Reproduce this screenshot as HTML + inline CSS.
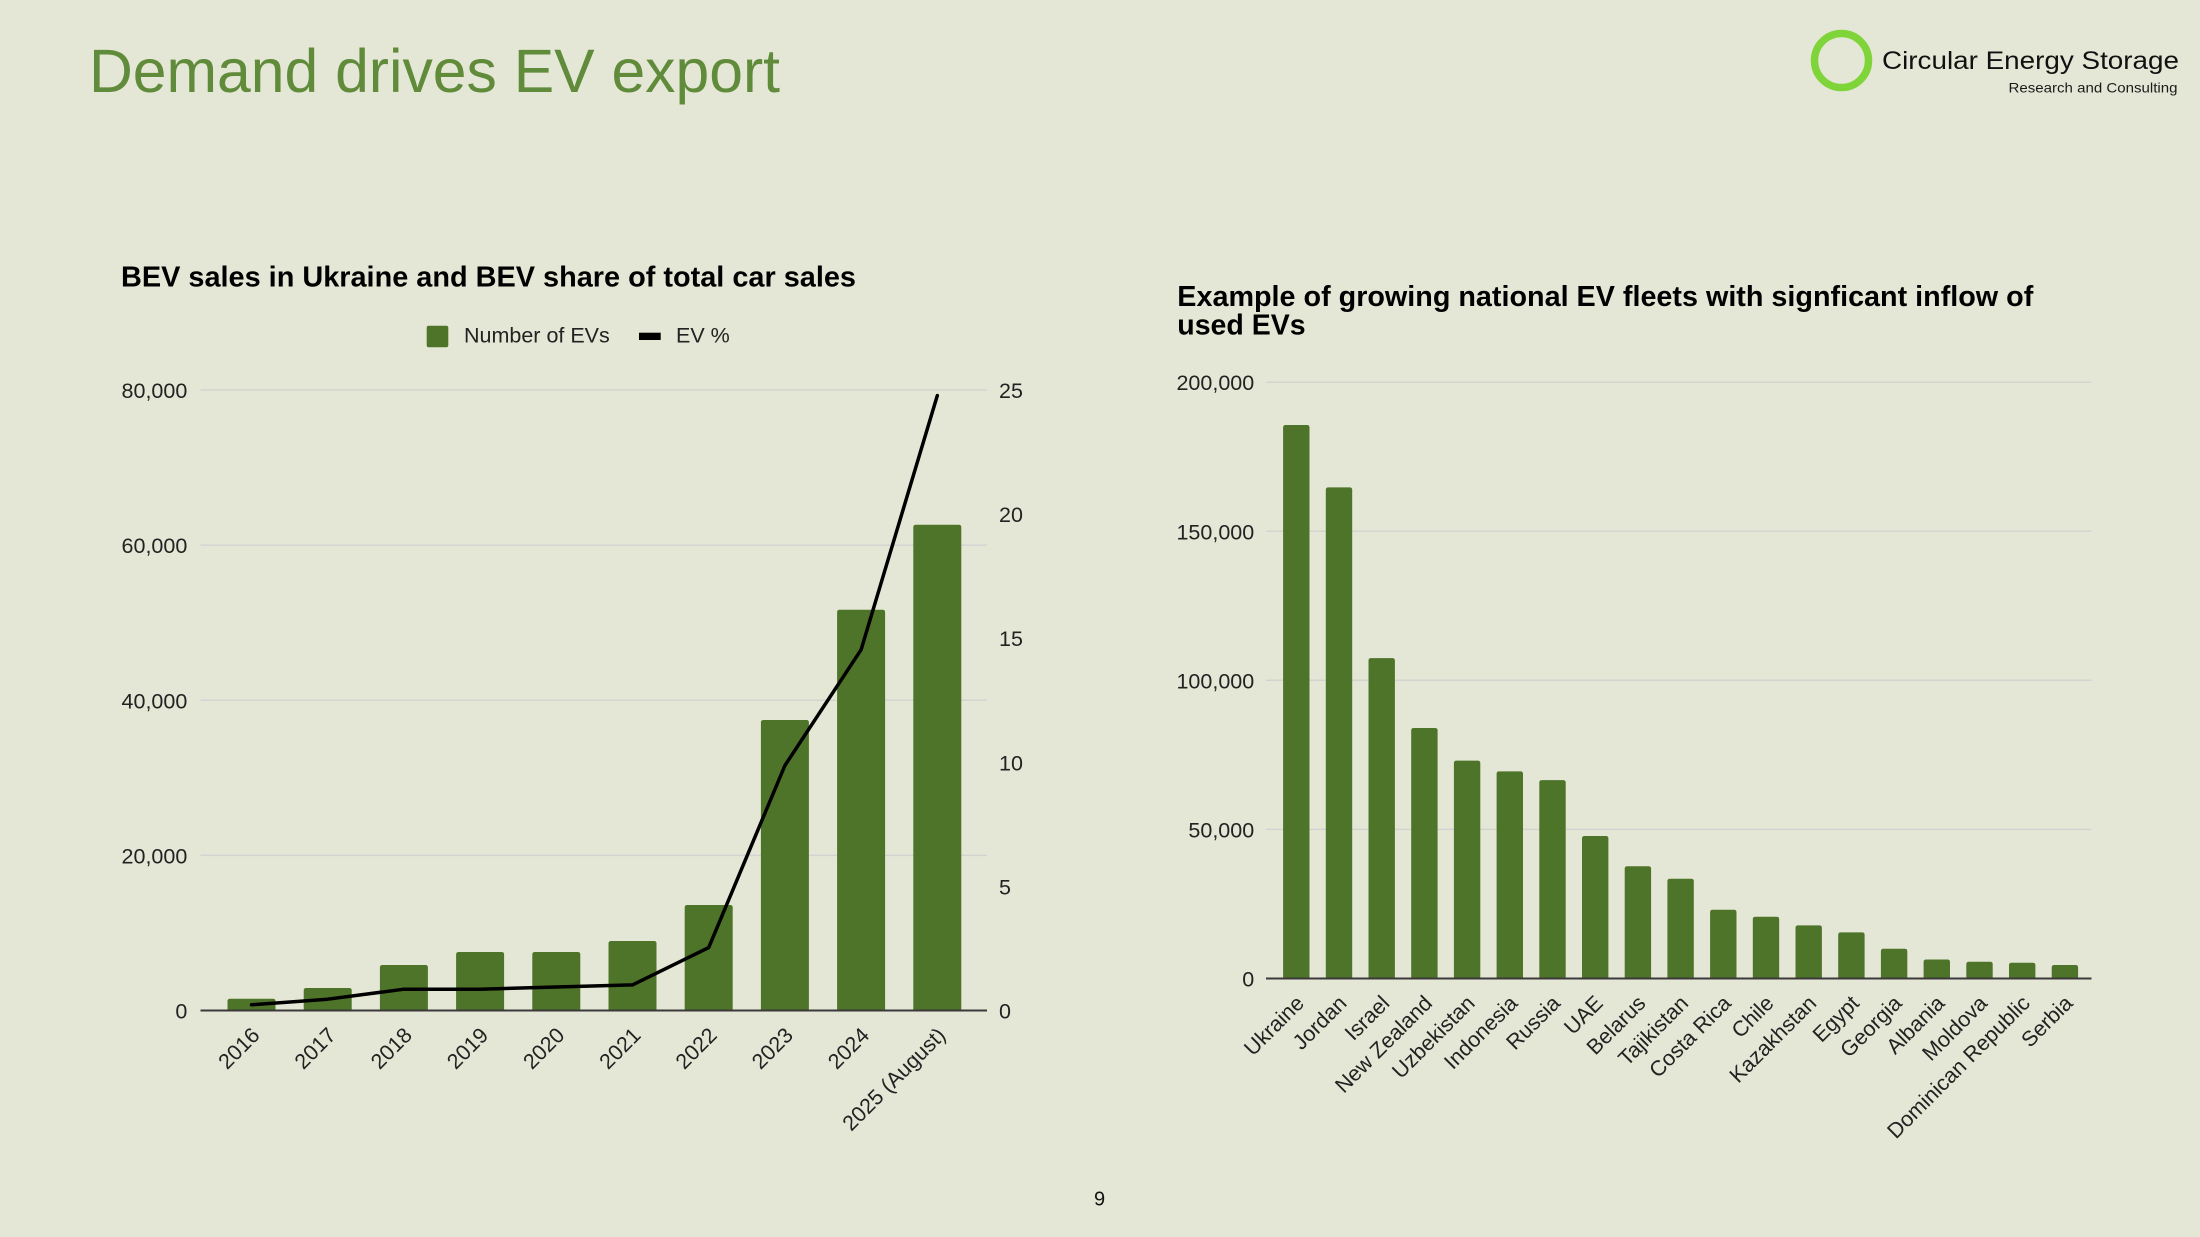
<!DOCTYPE html>
<html>
<head>
<meta charset="utf-8">
<style>
  html, body { margin: 0; padding: 0; background: #e5e7d6; }
  body { width: 2200px; height: 1237px; overflow: hidden; }
  svg { display: block; }
  text { font-family: "Liberation Sans", Arial, sans-serif; }
</style>
</head>
<body>
<svg width="2200" height="1237" viewBox="0 0 2200 1237" xmlns="http://www.w3.org/2000/svg">
  <rect x="0" y="0" width="2200" height="1237" fill="#e5e7d6"/>

  <!-- Main title -->
  <text x="89" y="92" font-size="61.5" fill="#608b3a" textLength="691" lengthAdjust="spacingAndGlyphs">Demand drives EV export</text>

  <!-- Logo -->
  <circle cx="1841.5" cy="60.5" r="27" fill="none" stroke="#7fd43a" stroke-width="7.5"/>
  <text x="1882" y="69" font-size="25" fill="#111" textLength="297" lengthAdjust="spacingAndGlyphs">Circular Energy Storage</text>
  <text x="2008.5" y="92.7" font-size="14" fill="#1a1a1a" textLength="169" lengthAdjust="spacingAndGlyphs">Research and Consulting</text>

  <!-- ================= LEFT CHART ================= -->
  <text x="121" y="286.7" font-size="28.5" font-weight="bold" fill="#000" textLength="735" lengthAdjust="spacingAndGlyphs">BEV sales in Ukraine and BEV share of total car sales</text>

  <!-- legend -->
  <rect x="426.7" y="325.7" width="21.6" height="21.6" rx="2" fill="#4e7429"/>
  <text x="464" y="342.7" font-size="21.5" fill="#222">Number of EVs</text>
  <rect x="639" y="332.7" width="21.7" height="7.3" fill="#000"/>
  <text x="676" y="342.7" font-size="21.5" fill="#222">EV %</text>

  <!-- gridlines -->
  <g stroke="#d3d4d2" stroke-width="1.5">
    <line x1="200.5" y1="390" x2="987" y2="390"/>
    <line x1="200.5" y1="545.1" x2="987" y2="545.1"/>
    <line x1="200.5" y1="700.3" x2="987" y2="700.3"/>
    <line x1="200.5" y1="855.4" x2="987" y2="855.4"/>
  </g>

  <!-- left axis labels -->
  <g font-size="21.5" fill="#222" text-anchor="end">
    <text x="187.3" y="398">80,000</text>
    <text x="187.3" y="553.1">60,000</text>
    <text x="187.3" y="708.3">40,000</text>
    <text x="187.3" y="863.4">20,000</text>
    <text x="187.3" y="1018.5">0</text>
  </g>
  <!-- right axis labels -->
  <g font-size="21.5" fill="#222" text-anchor="start">
    <text x="999" y="398">25</text>
    <text x="999" y="522.1">20</text>
    <text x="999" y="646.2">15</text>
    <text x="999" y="770.3">10</text>
    <text x="999" y="894.4">5</text>
    <text x="999" y="1018.5">0</text>
  </g>

  <!-- bars -->
  <g fill="#4e7429">
    <path d="M227.5,1010.5 V1001.3 q0,-2.5 2.5,-2.5 H273 q2.5,0 2.5,2.5 V1010.5 Z"/>
    <path d="M303.7,1010.5 V990.5 q0,-2.5 2.5,-2.5 H349.2 q2.5,0 2.5,2.5 V1010.5 Z"/>
    <path d="M379.9,1010.5 V967.5 q0,-2.5 2.5,-2.5 H425.4 q2.5,0 2.5,2.5 V1010.5 Z"/>
    <path d="M456.1,1010.5 V954.5 q0,-2.5 2.5,-2.5 H501.6 q2.5,0 2.5,2.5 V1010.5 Z"/>
    <path d="M532.3,1010.5 V954.5 q0,-2.5 2.5,-2.5 H577.8 q2.5,0 2.5,2.5 V1010.5 Z"/>
    <path d="M608.5,1010.5 V943.5 q0,-2.5 2.5,-2.5 H654 q2.5,0 2.5,2.5 V1010.5 Z"/>
    <path d="M684.7,1010.5 V907.5 q0,-2.5 2.5,-2.5 H730.2 q2.5,0 2.5,2.5 V1010.5 Z"/>
    <path d="M760.9,1010.5 V722.5 q0,-2.5 2.5,-2.5 H806.4 q2.5,0 2.5,2.5 V1010.5 Z"/>
    <path d="M837.1,1010.5 V612.3 q0,-2.5 2.5,-2.5 H882.6 q2.5,0 2.5,2.5 V1010.5 Z"/>
    <path d="M913.3,1010.5 V527.3 q0,-2.5 2.5,-2.5 H958.8 q2.5,0 2.5,2.5 V1010.5 Z"/>
  </g>

  <!-- axis baseline -->
  <line x1="200.5" y1="1010.5" x2="987" y2="1010.5" stroke="#3a3a3a" stroke-width="2"/>

  <!-- EV % line -->
  <polyline fill="none" stroke="#000" stroke-width="3.5" stroke-linejoin="round" stroke-linecap="round"
    points="251.5,1004.8 327.7,999.2 403.9,989.2 480.1,989.2 556.3,987 632.5,984.9 708.7,947.6 784.9,765.5 861.1,649.7 937.3,395.6"/>

  <!-- x labels -->
  <g font-size="21.5" fill="#222" text-anchor="end">
    <text transform="translate(261,1036.5) rotate(-45)">2016</text>
    <text transform="translate(337.2,1036.5) rotate(-45)">2017</text>
    <text transform="translate(413.4,1036.5) rotate(-45)">2018</text>
    <text transform="translate(489.6,1036.5) rotate(-45)">2019</text>
    <text transform="translate(565.8,1036.5) rotate(-45)">2020</text>
    <text transform="translate(642,1036.5) rotate(-45)">2021</text>
    <text transform="translate(718.2,1036.5) rotate(-45)">2022</text>
    <text transform="translate(794.4,1036.5) rotate(-45)">2023</text>
    <text transform="translate(870.6,1036.5) rotate(-45)">2024</text>
    <text transform="translate(946.8,1036.5) rotate(-45)">2025 (August)</text>
  </g>

  <!-- ================= RIGHT CHART ================= -->
  <text x="1177.3" y="306" font-size="28.5" font-weight="bold" fill="#000" textLength="856" lengthAdjust="spacingAndGlyphs">Example of growing national EV fleets with signficant inflow of</text>
  <text x="1177.3" y="334.5" font-size="28.5" font-weight="bold" fill="#000">used EVs</text>

  <g stroke="#d3d4d2" stroke-width="1.5">
    <line x1="1266" y1="382.2" x2="2091.5" y2="382.2"/>
    <line x1="1266" y1="531.3" x2="2091.5" y2="531.3"/>
    <line x1="1266" y1="680.3" x2="2091.5" y2="680.3"/>
    <line x1="1266" y1="829.4" x2="2091.5" y2="829.4"/>
  </g>

  <g font-size="21.5" fill="#222" text-anchor="end">
    <text x="1254.2" y="390.2">200,000</text>
    <text x="1254.2" y="539.3">150,000</text>
    <text x="1254.2" y="688.3">100,000</text>
    <text x="1254.2" y="837.4">50,000</text>
    <text x="1254.2" y="986.5">0</text>
  </g>

  <g fill="#4e7429">
    <path d="M1283.1,978.5 V427.5 q0,-2.5 2.5,-2.5 H1307 q2.5,0 2.5,2.5 V978.5 Z"/>
    <path d="M1325.8,978.5 V489.9 q0,-2.5 2.5,-2.5 H1349.7 q2.5,0 2.5,2.5 V978.5 Z"/>
    <path d="M1368.5,978.5 V660.6 q0,-2.5 2.5,-2.5 H1392.4 q2.5,0 2.5,2.5 V978.5 Z"/>
    <path d="M1411.2,978.5 V730.5 q0,-2.5 2.5,-2.5 H1435.1 q2.5,0 2.5,2.5 V978.5 Z"/>
    <path d="M1453.9,978.5 V763.1 q0,-2.5 2.5,-2.5 H1477.8 q2.5,0 2.5,2.5 V978.5 Z"/>
    <path d="M1496.6,978.5 V773.9 q0,-2.5 2.5,-2.5 H1520.5 q2.5,0 2.5,2.5 V978.5 Z"/>
    <path d="M1539.3,978.5 V782.6 q0,-2.5 2.5,-2.5 H1563.2 q2.5,0 2.5,2.5 V978.5 Z"/>
    <path d="M1582,978.5 V838.5 q0,-2.5 2.5,-2.5 H1605.9 q2.5,0 2.5,2.5 V978.5 Z"/>
    <path d="M1624.7,978.5 V868.8 q0,-2.5 2.5,-2.5 H1648.6 q2.5,0 2.5,2.5 V978.5 Z"/>
    <path d="M1667.4,978.5 V881.3 q0,-2.5 2.5,-2.5 H1691.3 q2.5,0 2.5,2.5 V978.5 Z"/>
    <path d="M1710.1,978.5 V912.2 q0,-2.5 2.5,-2.5 H1734 q2.5,0 2.5,2.5 V978.5 Z"/>
    <path d="M1752.8,978.5 V919.2 q0,-2.5 2.5,-2.5 H1776.7 q2.5,0 2.5,2.5 V978.5 Z"/>
    <path d="M1795.5,978.5 V927.9 q0,-2.5 2.5,-2.5 H1819.4 q2.5,0 2.5,2.5 V978.5 Z"/>
    <path d="M1838.2,978.5 V934.9 q0,-2.5 2.5,-2.5 H1862.1 q2.5,0 2.5,2.5 V978.5 Z"/>
    <path d="M1880.9,978.5 V951.2 q0,-2.5 2.5,-2.5 H1904.8 q2.5,0 2.5,2.5 V978.5 Z"/>
    <path d="M1923.6,978.5 V962 q0,-2.5 2.5,-2.5 H1947.5 q2.5,0 2.5,2.5 V978.5 Z"/>
    <path d="M1966.3,978.5 V964.2 q0,-2.5 2.5,-2.5 H1990.2 q2.5,0 2.5,2.5 V978.5 Z"/>
    <path d="M2009,978.5 V965.3 q0,-2.5 2.5,-2.5 H2032.9 q2.5,0 2.5,2.5 V978.5 Z"/>
    <path d="M2051.7,978.5 V967.5 q0,-2.5 2.5,-2.5 H2075.6 q2.5,0 2.5,2.5 V978.5 Z"/>
  </g>

  <line x1="1266" y1="978.5" x2="2091.5" y2="978.5" stroke="#3a3a3a" stroke-width="2"/>

  <g font-size="21.5" fill="#222" text-anchor="end">
    <text transform="translate(1305.3,1004.5) rotate(-45)">Ukraine</text>
    <text transform="translate(1348,1004.5) rotate(-45)">Jordan</text>
    <text transform="translate(1390.7,1004.5) rotate(-45)">Israel</text>
    <text transform="translate(1433.4,1004.5) rotate(-45)">New Zealand</text>
    <text transform="translate(1476.1,1004.5) rotate(-45)">Uzbekistan</text>
    <text transform="translate(1518.8,1004.5) rotate(-45)">Indonesia</text>
    <text transform="translate(1561.5,1004.5) rotate(-45)">Russia</text>
    <text transform="translate(1604.2,1004.5) rotate(-45)">UAE</text>
    <text transform="translate(1646.9,1004.5) rotate(-45)">Belarus</text>
    <text transform="translate(1689.6,1004.5) rotate(-45)">Tajikistan</text>
    <text transform="translate(1732.3,1004.5) rotate(-45)">Costa Rica</text>
    <text transform="translate(1775,1004.5) rotate(-45)">Chile</text>
    <text transform="translate(1817.7,1004.5) rotate(-45)">Kazakhstan</text>
    <text transform="translate(1860.4,1004.5) rotate(-45)">Egypt</text>
    <text transform="translate(1903.1,1004.5) rotate(-45)">Georgia</text>
    <text transform="translate(1945.8,1004.5) rotate(-45)">Albania</text>
    <text transform="translate(1988.5,1004.5) rotate(-45)">Moldova</text>
    <text transform="translate(2031.2,1004.5) rotate(-45)">Dominican Republic</text>
    <text transform="translate(2073.9,1004.5) rotate(-45)">Serbia</text>
  </g>

  <!-- page number -->
  <text x="1099.5" y="1205.7" font-size="20" fill="#111" text-anchor="middle">9</text>
</svg>
</body>
</html>
